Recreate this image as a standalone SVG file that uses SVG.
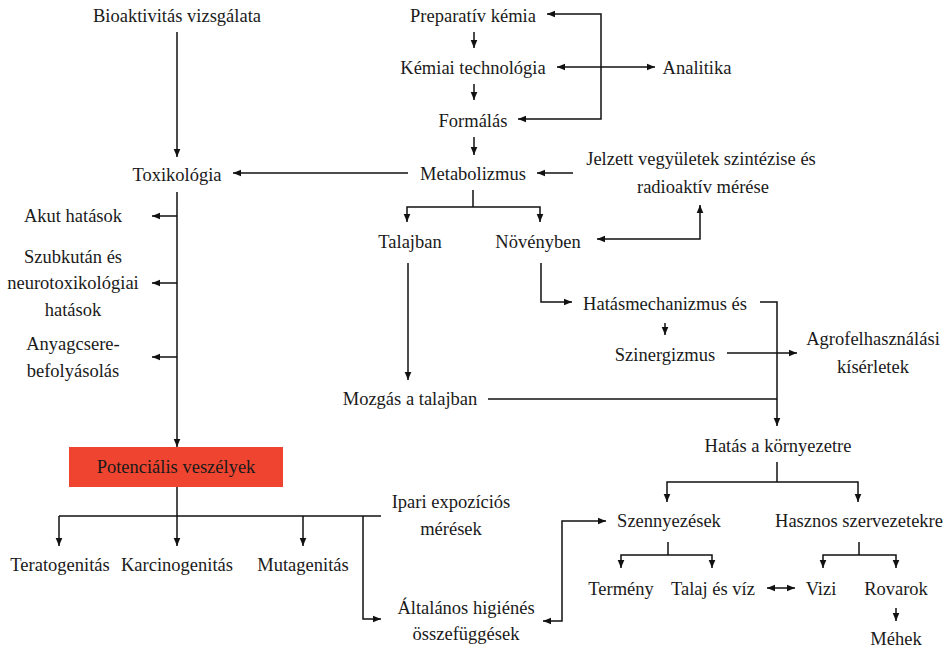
<svg xmlns="http://www.w3.org/2000/svg" width="946" height="651" viewBox="0 0 946 651">
<style>
.c path{fill:none;stroke:#111;stroke-width:1.5}
.e{marker-end:url(#ah)}
.b{marker-start:url(#ah);marker-end:url(#ah)}
</style>
<defs>
<marker id="ah" markerUnits="userSpaceOnUse" markerWidth="9" markerHeight="8" refX="8" refY="4" orient="auto-start-reverse"><path d="M0,0.7 L8,4 L0,7.3 z" fill="#111"/></marker>
</defs>
<rect width="946" height="651" fill="#fff"/>
<g class="c" id="connectors">
<path class="e" d="M177,32 V157"/>
<path class="e" d="M474,32 V48"/>
<path class="e" d="M474,84 V100"/>
<path class="b" d="M518,119 H601 V14 H547"/>
<path class="b" d="M557,67 H655"/>
<path class="e" d="M474,137 V155"/>
<path class="e" d="M408,173 H233"/>
<path class="e" d="M573,173 H537"/>
<path d="M473,190 V207"/>
<path class="b" d="M407,222 V207 H540 V222"/>
<path class="b" d="M597,239 H700 V205"/>
<path class="e" d="M408,263 V380"/>
<path class="e" d="M541,263 V302 H572"/>
<path class="e" d="M665,323 V335"/>
<path class="e" d="M760,302 H777 V426"/>
<path class="e" d="M727,353 H797"/>
<path d="M488,399 H777"/>
<path d="M777,462 V482"/>
<path class="b" d="M667,502 V482 H858 V502"/>
<path d="M668,542 V555"/>
<path class="b" d="M621,568 V555 H712 V568"/>
<path d="M859,542 V555"/>
<path class="b" d="M823,568 V555 H896 V568"/>
<path class="b" d="M767,588 H795"/>
<path class="e" d="M896,608 V621"/>
<path class="b" d="M606,521 H562 V621 H543"/>
<path class="e" d="M177,192 V447"/>
<path class="e" d="M177,216 H152"/>
<path class="e" d="M177,283 H152"/>
<path class="e" d="M177,357 H152"/>
<path class="e" d="M177,487 V546"/>
<path class="e" d="M59,516 V546"/>
<path d="M59,516 H381"/>
<path class="e" d="M303,516 V546"/>
<path class="e" d="M363,516 V619 H381"/>
</g>
<g font-family="Liberation Serif, Times New Roman, serif" font-size="18.5" fill="#1a1a1a" text-anchor="middle">
<g id="bioaktivitas"><text x="177" y="22">Bioaktivitás vizsgálata</text></g>
<g id="preparativ"><text x="473" y="22">Preparatív kémia</text></g>
<g id="kemiai"><text x="473" y="74">Kémiai technológia</text></g>
<g id="analitika"><text x="697" y="74">Analitika</text></g>
<g id="formalas"><text x="473" y="127">Formálás</text></g>
<g id="metabolizmus"><text x="473" y="180">Metabolizmus</text></g>
<g id="toxikologia"><text x="177" y="181">Toxikológia</text></g>
<g id="jelzett"><text x="701" y="165">Jelzett vegyületek szintézise és</text><text x="703" y="193">radioaktív mérése</text></g>
<g id="talajban"><text x="410" y="248">Talajban</text></g>
<g id="novenyben"><text x="538" y="248">Növényben</text></g>
<g id="akut"><text x="73" y="222">Akut hatások</text></g>
<g id="szubkutan"><text x="73" y="263">Szubkután és</text><text x="73" y="289">neurotoxikológiai</text><text x="73" y="316">hatások</text></g>
<g id="anyagcsere"><text x="73" y="350">Anyagcsere-</text><text x="73" y="377">befolyásolás</text></g>
<g id="hatasmech"><text x="665" y="310">Hatásmechanizmus és</text></g>
<g id="szinergizmus"><text x="665" y="361">Szinergizmus</text></g>
<g id="agro"><text x="873" y="345">Agrofelhasználási</text><text x="873" y="373">kísérletek</text></g>
<g id="mozgas"><text x="410" y="405">Mozgás a talajban</text></g>
<g id="hatas"><text x="778" y="452">Hatás a környezetre</text></g>
<g id="potencialis"><rect x="69" y="447" width="214" height="40" fill="#ef4530"/><text x="176" y="473">Potenciális veszélyek</text></g>
<g id="ipari"><text x="451" y="508">Ipari expozíciós</text><text x="451" y="535">mérések</text></g>
<g id="teratogenitas"><text x="60" y="571">Teratogenitás</text></g>
<g id="karcinogenitas"><text x="177" y="571">Karcinogenitás</text></g>
<g id="mutagenitas"><text x="303" y="571">Mutagenitás</text></g>
<g id="altalanos"><text x="466" y="614">Általános higiénés</text><text x="466" y="640">összefüggések</text></g>
<g id="szennyezesek"><text x="669" y="527">Szennyezések</text></g>
<g id="hasznos"><text x="859" y="527">Hasznos szervezetekre</text></g>
<g id="termeny"><text x="621" y="595">Termény</text></g>
<g id="talajviz"><text x="713" y="595">Talaj és víz</text></g>
<g id="vizi"><text x="821" y="595">Vizi</text></g>
<g id="rovarok"><text x="896" y="595">Rovarok</text></g>
<g id="mehek"><text x="896" y="645">Méhek</text></g>
</g>
</svg>
